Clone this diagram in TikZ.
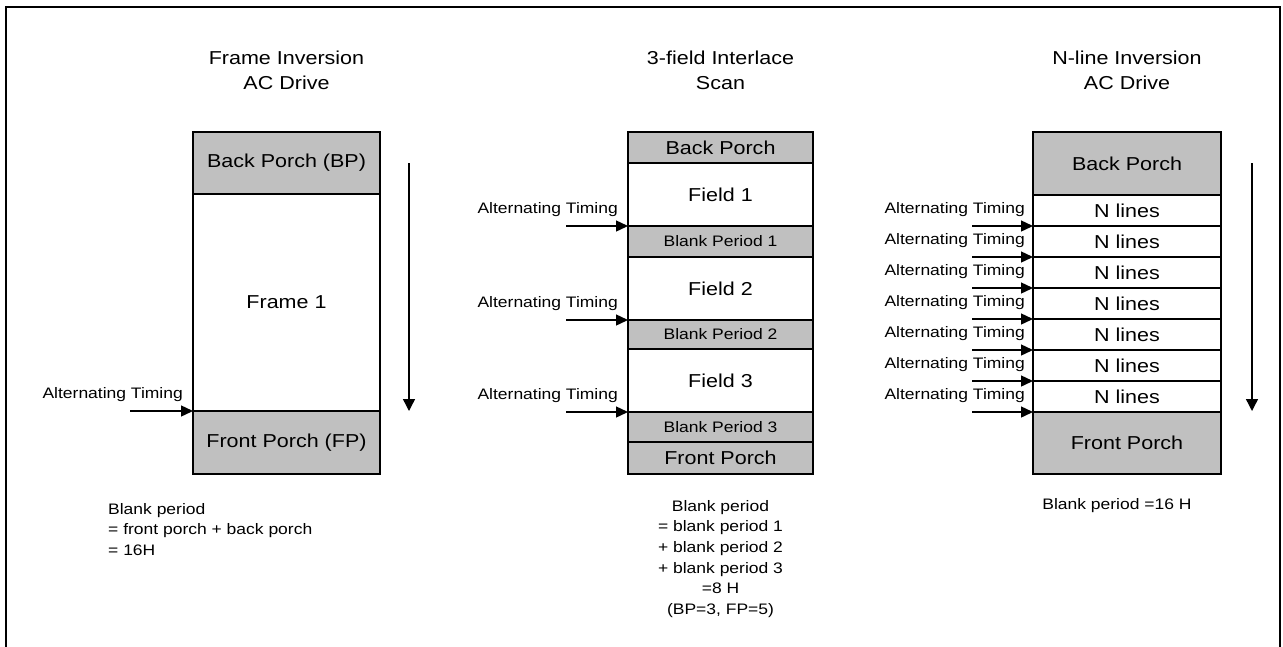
\documentclass[tikz,border=0pt]{standalone}
\usepackage{fontspec}
\setmainfont{Liberation Sans}[FakeStretch=1.15]
\usetikzlibrary{arrows.meta}
\definecolor{boxgray}{RGB}{192,192,192}
\newcommand{\bigf}{\fontsize{18.7}{22.5}\selectfont}
\newcommand{\titlef}{\fontsize{18.7}{25}\selectfont}
\newcommand{\smallf}{\fontsize{15.2}{20.6}\selectfont}
\begin{document}
\begin{tikzpicture}[x=1pt,y=-1pt,
  row/.style={draw, line width=2pt, inner sep=0pt, outer sep=0pt, font=\bigf},
  grayrow/.style={row, fill=boxgray},
  whiterow/.style={row, fill=white},
  lcol/.style={minimum width=187pt},
  mcol/.style={minimum width=185pt},
  rcol/.style={minimum width=188pt},
  title/.style={font=\titlef, align=center, inner sep=0pt},
  note/.style={font=\smallf, inner sep=0pt},
  timing/.style={draw, line width=1.4pt, -{Triangle[length=12pt,width=11pt]}},
  flow/.style={draw, line width=1.4pt, -{Triangle[length=12pt,width=12pt]}},
  ]
\useasboundingbox (0,0) rectangle (1283,646);
\draw[line width=2pt] (6,647) -- (6,7) -- (1280,7) -- (1280,647);

% titles
\node[title] (t1) at (286.5,70) {Frame Inversion\\AC Drive};
\node[title] (t2) at (720.5,70) {3-field Interlace\\Scan};
\node[title] (t3) at (1127,70) {N-line Inversion\\AC Drive};

% left column
\node[grayrow, lcol, minimum height=62pt] (lbp) at (286.5,163) {Back Porch (BP)};
\node[whiterow, lcol, minimum height=217pt] (lfr) at (286.5,302.5) {Frame 1};
\node[grayrow, lcol, minimum height=63pt] (lfp) at (286.5,442.5) {Front Porch (FP)};
\coordinate (la) at ([xshift=-63pt]lfp.north west);
\draw[timing] (la) -- (lfp.north west);
\node[note, anchor=east] (lat) at (183,395) {Alternating Timing};
\coordinate (lv1) at (409,163);
\coordinate (lv2) at (409,411);
\draw[flow] (lv1) -- (lv2);
\node[note, anchor=north west, align=left] (ln) at (108,503) {Blank period\\= front porch + back porch\\= 16H};

% middle column
\node[grayrow, mcol, minimum height=31pt] (mbp) at (720.5,147.5) {Back Porch};
\node[whiterow, mcol, minimum height=63pt] (mf1) at (720.5,194.5) {Field 1};
\node[grayrow, mcol, minimum height=31pt, font=\smallf] (mb1) at (720.5,241.5) {Blank Period 1};
\node[whiterow, mcol, minimum height=63pt] (mf2) at (720.5,288.5) {Field 2};
\node[grayrow, mcol, minimum height=29pt, font=\smallf] (mb2) at (720.5,334.5) {Blank Period 2};
\node[whiterow, mcol, minimum height=63pt] (mf3) at (720.5,380.5) {Field 3};
\node[grayrow, mcol, minimum height=30pt, font=\smallf] (mb3) at (720.5,427) {Blank Period 3};
\node[grayrow, mcol, minimum height=32pt] (mfp) at (720.5,458) {Front Porch};
\foreach \r/\y in {mb1/226, mb2/320, mb3/412}{
  \coordinate (ms\r) at ([xshift=-62pt]\r.north west);
  \draw[timing] (ms\r) -- (\r.north west);
  \node[note, anchor=east] (mt\r) at (618,\y-16) {Alternating Timing};
}
\node[note, align=center, anchor=north] (mn) at (720.5,500) {Blank period\\= blank period 1\\+ blank period 2\\+ blank period 3\\=8 H\\(BP=3, FP=5)};

% right column
\node[grayrow, rcol, minimum height=63pt] (rbp) at (1127,163.5) {Back Porch};
\foreach \i in {1,...,7}{
  \pgfmathsetmacro{\yc}{195+31*\i-15.5}
  \node[whiterow, rcol, minimum height=31pt] (rn\i) at (1127,\yc) {N lines};
  \pgfmathsetmacro{\yl}{195+31*\i}
  \coordinate (rs\i) at ([xshift=-61pt]rn\i.south west);
  \draw[timing] (rs\i) -- (rn\i.south west);
  \node[note, anchor=east] (rt\i) at (1025,\yl-16) {Alternating Timing};
}
\node[grayrow, rcol, minimum height=62pt] (rfp) at (1127,443) {Front Porch};
\coordinate (rv1) at (1252,163);
\coordinate (rv2) at (1252,411);
\draw[flow] (rv1) -- (rv2);
\node[note] (rnote) at (1117,506) {Blank period =16 H};
\end{tikzpicture}
\end{document}
